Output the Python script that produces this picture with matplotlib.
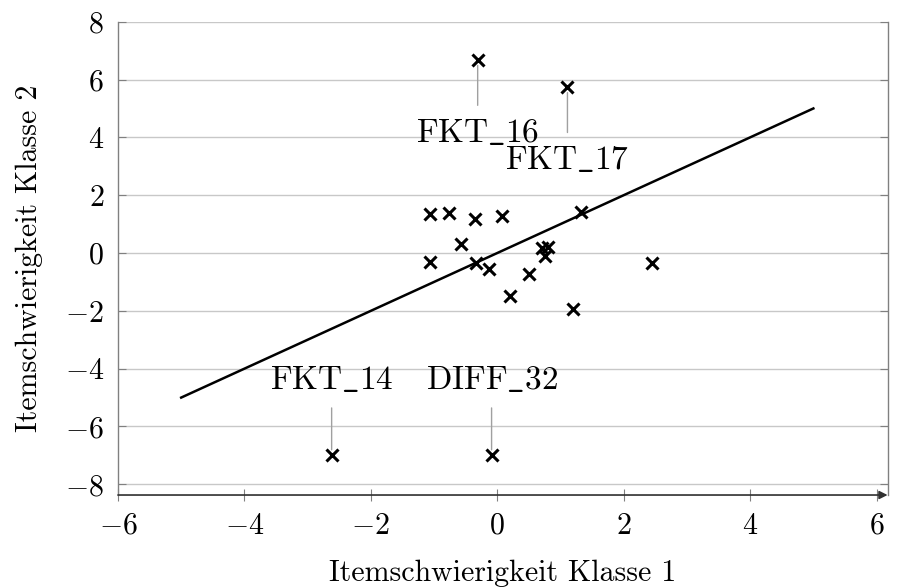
import matplotlib
matplotlib.use("Agg")
import matplotlib.pyplot as plt

plt.rcParams['font.family'] = ['cmr10', 'DejaVu Serif']
plt.rcParams['mathtext.fontset'] = 'cm'
plt.rcParams['axes.formatter.use_mathtext'] = True
plt.rcParams['axes.unicode_minus'] = True

# unlabeled items
x_items = [-1.07, -0.76, -0.36, 0.07, 1.32, -0.58, -1.06, -0.34, -0.13, 0.20,
           0.50, 0.70, 0.81, 0.76, 1.20, 2.45]
y_items = [1.34, 1.37, 1.17, 1.28, 1.41, 0.31, -0.32, -0.36, -0.56, -1.48,
           -0.74, 0.16, 0.22, -0.09, -1.94, -0.34]

# labeled items
lab_names = ["FKT_16", "FKT_17", "FKT_14", "DIFF_32"]
lab_x = [-0.31, 1.11, -2.62, -0.09]
lab_y = [6.68, 5.74, -7.0, -7.0]
lab_dir = [-1, -1, 1, 1]   # label below (-1) or above (+1)

# identity line
line_x = [-5, 5]
line_y = [-5, 5]

xticks = [-6, -4, -2, 0, 2, 4, 6]
yticks = [-8, -6, -4, -2, 0, 2, 4, 6, 8]

fig = plt.figure(figsize=(8.97, 5.87), dpi=100)
ax = fig.add_axes([0.1315, 0.1567, 0.858, 0.8063])

fs = 21.5
ax.set_xlim(-6, 6.174)
ax.set_ylim(-8.37, 8)

ax.set_yticks(yticks)
ax.set_xticks(xticks)
ax.yaxis.grid(True, color='#c8c8c8', lw=1.0)
ax.set_axisbelow(True)

for s in ['top', 'bottom']:
    ax.spines[s].set_visible(False)
for s in ['left', 'right']:
    ax.spines[s].set_color('#808080')
    ax.spines[s].set_linewidth(1.0)

ax.tick_params(axis='y', which='both', direction='in', length=6, color='#808080',
               left=True, right=True, labelsize=fs, pad=10)
ax.tick_params(axis='x', direction='inout', length=9, color='#808080',
               labelsize=fs, pad=8)

# bottom axis line with arrow
ax.annotate('', xy=(1.0, 0.0), xycoords='axes fraction',
            xytext=(0.0, 0.0), textcoords='axes fraction',
            arrowprops=dict(arrowstyle='-|>', color='#303030', lw=1.2,
                            mutation_scale=12, shrinkA=0, shrinkB=0))

ax.plot(line_x, line_y, color='black', lw=1.8, zorder=3)
ax.plot(x_items + lab_x, y_items + lab_y, linestyle='none', marker='x',
        markersize=8, markeredgewidth=2.2, color='black', zorder=4)

for name, x, y, d in zip(lab_names, lab_x, lab_y, lab_dir):
    off = 47.5 if d > 0 else -59
    ax.annotate(r'$\mathrm{' + name.replace('_', r'\_') + '}$', xy=(x, y),
                xytext=(0, off), textcoords='offset points',
                ha='center', va='baseline', fontsize=24,
                arrowprops=dict(arrowstyle='-', color='#a0a0a0', lw=1.0,
                                shrinkA=7, shrinkB=4))

ax.set_xlabel('Itemschwierigkeit Klasse 1', fontsize=fs, labelpad=14)
ax.set_ylabel('Itemschwierigkeit Klasse 2', fontsize=fs, labelpad=16)

fig.savefig('out.png', dpi=100)
